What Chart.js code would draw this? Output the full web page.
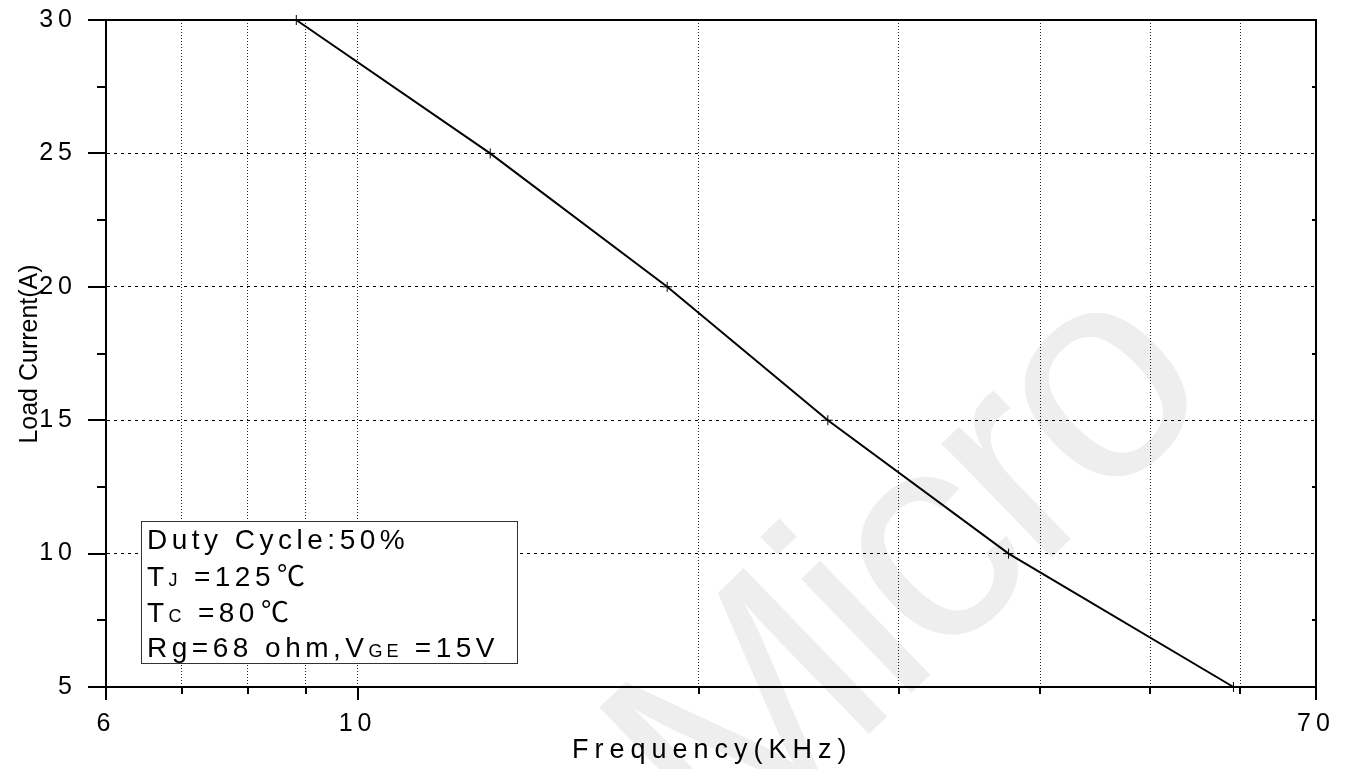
<!DOCTYPE html>
<html>
<head>
<meta charset="utf-8">
<script src="https://cdn.jsdelivr.net/npm/chart.js@4.4.1/dist/chart.umd.min.js"></script>
<style>
  html, body { margin: 0; padding: 0; background: #fff; }
  #wrap { width: 1346px; height: 769px; position: relative; }
</style>
</head>
<body>
<div id="wrap"><canvas id="myChart"></canvas></div>
<script>
// Values
const frequencyKHz = [8.83, 13.09, 18.75, 25.98, 37.5, 59.2];
const loadCurrentA = [30, 25, 20, 15, 10, 5];

// Axis ticks
const xTickValues = [6, 7, 8, 9, 10, 20, 30, 40, 50, 60, 70];
const xLabelValues = [6, 10, 70];
const yMin = 5, yMax = 30, yStep = 2.5;
const yGridValues = [10, 15, 20, 25];

const xTitle = 'Frequency(KHz)';
const yTitle = 'Load Current(A)';
const watermarkText = 'Micro';

// Legend lines: [text, kind] segments
const legendLines = [
    [['Duty Cycle:50%', 'big']],
    [['T', 'big'], ['J', 'small'], [' =125', 'big'], ['\u2103', 'deg']],
    [['T', 'big'], ['C', 'small'], [' =80', 'big'], ['\u2103', 'deg']],
    [['Rg=68 ohm,V', 'big'], ['GE', 'small'], [' =15V', 'big']]
];

const FONT = '"Liberation Sans", Arial, sans-serif';

// draws the faint watermark behind everything
const watermarkPlugin = {
    id: 'watermark',
    beforeDraw(chart) {
        const ctx = chart.ctx;
        ctx.save();
        ctx.translate(725, 873);
        ctx.rotate(-44 * Math.PI / 180);
        ctx.font = '300px ' + FONT;
        ctx.letterSpacing = '-11px';
        ctx.fillStyle = '#eeeeee';
        ctx.textAlign = 'left';
        ctx.textBaseline = 'alphabetic';
        ctx.fillText(watermarkText, 0, 0);
        ctx.restore();
        // tick labels are spaced out in the original
        ctx.letterSpacing = '5px';
    }
};

// frame, tick marks, titles and the legend box
const decorPlugin = {
    id: 'decor',
    afterDraw(chart) {
        const ctx = chart.ctx;
        const area = chart.chartArea;
        const xs = chart.scales.x;
        const ys = chart.scales.y;

        ctx.save();
        ctx.strokeStyle = '#000';
        ctx.lineWidth = 2;
        ctx.beginPath();
        ctx.moveTo(area.left, area.top);
        ctx.lineTo(area.right, area.top);
        ctx.lineTo(area.right, area.bottom);
        ctx.stroke();

        // x tick marks (outside, below)
        xTickValues.forEach(v => {
            const px = Math.round(xs.getPixelForValue(v));
            const len = xLabelValues.includes(v) ? 13 : 7;
            ctx.beginPath();
            ctx.moveTo(px, area.bottom);
            ctx.lineTo(px, area.bottom + len);
            ctx.stroke();
        });

        // y tick marks (outside, left)
        for (let v = yMin; v <= yMax + 0.001; v += yStep) {
            const py = Math.round(ys.getPixelForValue(v));
            const len = (v % 5 === 0) ? 18 : 9;
            ctx.beginPath();
            ctx.moveTo(area.left, py);
            ctx.lineTo(area.left - len, py);
            ctx.stroke();
            // small inner tick on the right border
            if (v % 5 !== 0) {
                ctx.beginPath();
                ctx.moveTo(area.right, py);
                ctx.lineTo(area.right - 4, py);
                ctx.stroke();
            }
        }

        // axis titles
        ctx.fillStyle = '#000';
        ctx.font = '27px ' + FONT;
        ctx.letterSpacing = '6px';
        ctx.textAlign = 'left';
        ctx.textBaseline = 'alphabetic';
        ctx.fillText(xTitle, 572, 758);

        ctx.save();
        ctx.letterSpacing = '0px';
        ctx.translate(37, 354);
        ctx.rotate(-Math.PI / 2);
        ctx.font = '25px ' + FONT;
        ctx.textAlign = 'center';
        ctx.fillText(yTitle, 0, 0);
        ctx.restore();

        // legend box
        const bx = 141, by = 521, bw = 376, bh = 142;
        ctx.fillStyle = '#fff';
        ctx.fillRect(bx, by, bw, bh);
        ctx.lineWidth = 1;
        ctx.strokeStyle = '#333';
        ctx.strokeRect(bx + 0.5, by + 0.5, bw, bh);

        ctx.fillStyle = '#000';
        ctx.textAlign = 'left';
        const baselines = [549, 586, 622, 657];
        legendLines.forEach((segs, i) => {
            let x = 147;
            segs.forEach(([txt, kind]) => {
                if (kind === 'big') {
                    ctx.font = '28px ' + FONT;
                    ctx.letterSpacing = '4.5px';
                } else if (kind === 'small') {
                    ctx.font = '18px ' + FONT;
                    ctx.letterSpacing = '4px';
                } else {
                    ctx.font = '28px "Noto Sans CJK SC", sans-serif';
                    ctx.letterSpacing = '0px';
                    x += 2;
                }
                ctx.fillText(txt, x, baselines[i]);
                x += ctx.measureText(txt).width;
            });
        });
        ctx.restore();
    }
};

const ctx = document.getElementById('myChart').getContext('2d');
const myChartInstance = new Chart(ctx, {
    type: 'scatter',
    data: {
        datasets: [{
            data: frequencyKHz.map((f, i) => ({ x: f, y: loadCurrentA[i] })),
            showLine: true,
            borderColor: '#000',
            borderWidth: 2,
            tension: 0,
            pointStyle: 'cross',
            pointRadius: 5,
            pointBorderWidth: 1,
            pointBorderColor: '#000',
            pointBackgroundColor: '#000',
            clip: false
        }]
    },
    options: {
        responsive: true,
        maintainAspectRatio: false,
        animation: false,
        layout: { padding: { top: 20, right: 30, left: 0, bottom: 0 } },
        plugins: {
            legend: { display: false },
            tooltip: { enabled: false }
        },
        scales: {
            x: {
                type: 'logarithmic',
                min: 6,
                max: 70,
                afterBuildTicks: scale => {
                    scale.ticks = xTickValues.map(v => ({ value: v }));
                },
                afterFit: scale => {
                    scale.height = 82;
                    scale.paddingLeft = 0;
                    scale.paddingRight = 0;
                },
                ticks: {
                    autoSkip: false,
                    maxRotation: 0,
                    padding: 22,
                    color: '#000',
                    font: { family: FONT, size: 25 },
                    callback: v => xLabelValues.includes(v) ? String(v) : ''
                },
                grid: {
                    drawTicks: false,
                    lineWidth: 1,
                    color: c => (c.tick && c.tick.value > 6 && c.tick.value < 70) ? '#222' : 'rgba(0,0,0,0)'
                },
                border: { display: true, color: '#000', width: 2, dash: [1, 2] }
            },
            y: {
                type: 'linear',
                min: yMin,
                max: yMax,
                afterBuildTicks: scale => {
                    const t = [];
                    for (let v = yMin; v <= yMax + 0.001; v += yStep) t.push({ value: v });
                    scale.ticks = t;
                },
                afterFit: scale => {
                    scale.width = 106;
                    scale.paddingTop = 0;
                    scale.paddingBottom = 0;
                },
                ticks: {
                    autoSkip: false,
                    padding: 29,
                    color: '#000',
                    font: { family: FONT, size: 25 },
                    callback: v => (v % 5 === 0) ? String(v) : ''
                },
                grid: {
                    drawTicks: false,
                    lineWidth: 1,
                    color: c => (c.tick && yGridValues.includes(c.tick.value)) ? '#000' : 'rgba(0,0,0,0)'
                },
                border: { display: true, color: '#000', width: 2, dash: [3, 4] }
            }
        }
    },
    plugins: [watermarkPlugin, decorPlugin]
});
</script>
</body>
</html>
